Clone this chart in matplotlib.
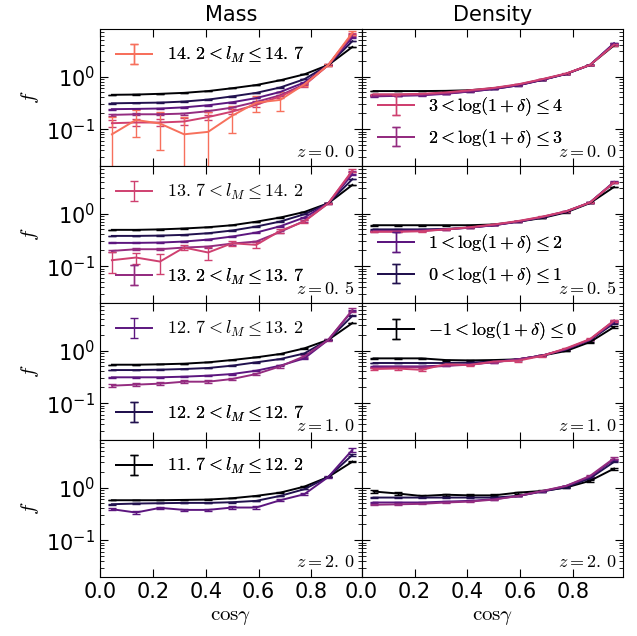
import matplotlib
matplotlib.use('Agg')
import matplotlib.pyplot as plt
from matplotlib.legend_handler import HandlerErrorbar
import numpy as np

plt.rcParams['mathtext.fontset'] = 'cm'

# bin centres in cos(gamma)
cos_gamma = [0.045, 0.136, 0.227, 0.318, 0.409, 0.5, 0.591, 0.682, 0.773, 0.864, 0.955]
redshifts = [r'0.\,0', r'0.\,5', r'1.\,0', r'2.\,0']

mass_labels = [r'$11.\,7<l_M\leq12.\,2$', r'$12.\,2<l_M\leq12.\,7$', r'$12.\,7<l_M\leq13.\,2$',
               r'$13.\,2<l_M\leq13.\,7$', r'$13.\,7<l_M\leq14.\,2$', r'$14.\,2<l_M\leq14.\,7$']
dens_labels = [r'$-1<\log(1+\delta)\leq0$', r'$0<\log(1+\delta)\leq1$',
               r'$1<\log(1+\delta)\leq2$', r'$2<\log(1+\delta)\leq3$',
               r'$3<\log(1+\delta)\leq4$']

# mass bins, one row per l_M bin
mass_z00 = [[0.45, 0.455, 0.47, 0.49, 0.53, 0.60, 0.69, 0.85, 1.10, 1.66, 3.65],
            [0.31, 0.315, 0.32, 0.335, 0.365, 0.42, 0.49, 0.62, 0.89, 1.66, 4.7],
            [0.24, 0.243, 0.247, 0.26, 0.285, 0.325, 0.39, 0.51, 0.77, 1.66, 5.5],
            [0.187, 0.192, 0.192, 0.198, 0.22, 0.257, 0.33, 0.44, 0.71, 1.66, 6.2],
            [0.13, 0.134, 0.134, 0.14, 0.17, 0.216, 0.29, 0.42, 0.68, 1.66, 6.5],
            [0.080, 0.150, 0.128, 0.080, 0.089, 0.18, 0.32, 0.36, 0.71, 1.66, 6.8]]
mass_z00_err = [[0.003, 0.003, 0.003, 0.003, 0.003, 0.004, 0.004, 0.005, 0.006, 0.01, 0.03],
                [0.003, 0.003, 0.003, 0.003, 0.004, 0.004, 0.005, 0.006, 0.008, 0.015, 0.05],
                [0.004, 0.004, 0.004, 0.004, 0.005, 0.006, 0.007, 0.009, 0.012, 0.02, 0.1],
                [0.008, 0.008, 0.008, 0.008, 0.009, 0.01, 0.012, 0.015, 0.02, 0.04, 0.2],
                [0.02, 0.02, 0.02, 0.02, 0.02, 0.025, 0.03, 0.03, 0.04, 0.06, 0.35],
                [0.09, 0.08, 0.088, 0.087, 0.125, 0.097, 0.105, 0.14, 0.06, 0.1, 0.6]]

mass_z05 = [[0.49, 0.49, 0.50, 0.52, 0.55, 0.60, 0.70, 0.84, 1.07, 1.57, 3.5],
            [0.376, 0.376, 0.381, 0.394, 0.423, 0.476, 0.566, 0.705, 0.97, 1.57, 4.5],
            [0.277, 0.277, 0.281, 0.294, 0.32, 0.366, 0.435, 0.574, 0.84, 1.57, 5.6],
            [0.195, 0.21, 0.21, 0.226, 0.236, 0.269, 0.294, 0.449, 0.725, 1.57, 6.3],
            [0.13, 0.146, 0.1225, 0.226, 0.182, 0.273, 0.254, 0.47, 0.705, 1.57, 6.6]]
mass_z05_err = [[0.003, 0.003, 0.003, 0.003, 0.003, 0.004, 0.004, 0.005, 0.006, 0.01, 0.03],
                [0.003, 0.003, 0.003, 0.004, 0.004, 0.005, 0.005, 0.006, 0.008, 0.015, 0.06],
                [0.005, 0.005, 0.005, 0.005, 0.006, 0.007, 0.008, 0.01, 0.012, 0.02, 0.12],
                [0.008, 0.008, 0.008, 0.009, 0.01, 0.011, 0.012, 0.015, 0.02, 0.04, 0.25],
                [0.055, 0.035, 0.05, 0.025, 0.05, 0.028, 0.035, 0.04, 0.04, 0.05, 0.5]]

mass_z10 = [[0.538, 0.538, 0.547, 0.563, 0.597, 0.661, 0.743, 0.86, 1.10, 1.60, 3.33],
            [0.426, 0.426, 0.433, 0.446, 0.466, 0.516, 0.597, 0.69, 0.88, 1.60, 4.57],
            [0.31, 0.31, 0.31, 0.319, 0.333, 0.358, 0.414, 0.516, 0.71, 1.60, 5.7],
            [0.215, 0.225, 0.235, 0.256, 0.256, 0.288, 0.358, 0.50, 0.777, 1.60, 5.9]]
mass_z10_err = [[0.003, 0.003, 0.003, 0.003, 0.004, 0.004, 0.005, 0.005, 0.007, 0.01, 0.04],
                [0.004, 0.004, 0.004, 0.004, 0.005, 0.005, 0.006, 0.007, 0.009, 0.015, 0.08],
                [0.006, 0.006, 0.006, 0.006, 0.007, 0.008, 0.009, 0.011, 0.014, 0.025, 0.15],
                [0.015, 0.015, 0.015, 0.016, 0.016, 0.017, 0.02, 0.025, 0.03, 0.05, 0.4]]

mass_z20 = [[0.574, 0.574, 0.574, 0.582, 0.59, 0.626, 0.694, 0.80, 1.04, 1.59, 3.1],
            [0.482, 0.496, 0.504, 0.511, 0.511, 0.526, 0.558, 0.694, 0.93, 1.59, 4.16],
            [0.388, 0.335, 0.411, 0.376, 0.376, 0.417, 0.417, 0.574, 0.746, 1.59, 5.2]]
mass_z20_err = [[0.004, 0.004, 0.004, 0.004, 0.005, 0.005, 0.006, 0.007, 0.009, 0.015, 0.05],
                [0.006, 0.006, 0.006, 0.006, 0.007, 0.007, 0.008, 0.01, 0.012, 0.02, 0.12],
                [0.02, 0.02, 0.02, 0.02, 0.02, 0.02, 0.02, 0.025, 0.03, 0.05, 0.45]]

# overdensity bins, one row per log(1+delta) bin
dens_z00 = [[0.53, 0.53, 0.53, 0.535, 0.55, 0.60, 0.69, 0.87, 1.12, 1.66, 3.9],
            [0.45, 0.45, 0.46, 0.48, 0.52, 0.58, 0.68, 0.86, 1.12, 1.66, 4.2],
            [0.42, 0.43, 0.44, 0.47, 0.52, 0.58, 0.68, 0.86, 1.12, 1.66, 4.3],
            [0.43, 0.44, 0.45, 0.48, 0.53, 0.60, 0.70, 0.88, 1.13, 1.66, 4.1],
            [0.46, 0.46, 0.47, 0.50, 0.55, 0.61, 0.71, 0.89, 1.14, 1.66, 4.0]]
dens_z05 = [[0.60, 0.60, 0.60, 0.60, 0.60, 0.62, 0.70, 0.82, 1.05, 1.58, 3.2],
            [0.50, 0.50, 0.50, 0.51, 0.54, 0.60, 0.70, 0.84, 1.08, 1.62, 3.9],
            [0.47, 0.47, 0.48, 0.50, 0.54, 0.60, 0.70, 0.85, 1.09, 1.62, 4.0],
            [0.46, 0.46, 0.47, 0.50, 0.54, 0.61, 0.71, 0.86, 1.10, 1.62, 3.9],
            [0.45, 0.45, 0.46, 0.50, 0.55, 0.62, 0.72, 0.87, 1.10, 1.62, 3.9]]
dens_z10 = [[0.71, 0.71, 0.71, 0.66, 0.65, 0.66, 0.68, 0.80, 0.98, 1.45, 2.8],
            [0.58, 0.58, 0.58, 0.58, 0.59, 0.62, 0.68, 0.80, 1.04, 1.58, 3.3],
            [0.50, 0.50, 0.50, 0.52, 0.55, 0.60, 0.68, 0.80, 1.06, 1.60, 3.5],
            [0.47, 0.48, 0.48, 0.51, 0.54, 0.60, 0.68, 0.80, 1.07, 1.62, 3.7],
            [0.445, 0.455, 0.43, 0.55, 0.53, 0.62, 0.64, 0.79, 1.10, 1.65, 3.7]]
dens_z20 = [[0.84, 0.77, 0.69, 0.73, 0.71, 0.71, 0.80, 0.86, 1.00, 1.34, 2.29],
            [0.645, 0.645, 0.645, 0.645, 0.645, 0.645, 0.69, 0.84, 1.01, 1.50, 3.07],
            [0.52, 0.52, 0.52, 0.54, 0.558, 0.60, 0.69, 0.84, 1.07, 1.59, 3.44],
            [0.47, 0.48, 0.49, 0.52, 0.54, 0.59, 0.69, 0.86, 1.07, 1.66, 3.6]]

dens_z00_err = [[0.005, 0.005, 0.005, 0.005, 0.005, 0.006, 0.007, 0.008, 0.01, 0.015, 0.05],
                [0.004, 0.004, 0.004, 0.004, 0.005, 0.005, 0.006, 0.008, 0.01, 0.015, 0.06],
                [0.004, 0.004, 0.004, 0.004, 0.005, 0.005, 0.006, 0.008, 0.01, 0.015, 0.08],
                [0.005, 0.005, 0.005, 0.005, 0.006, 0.006, 0.007, 0.009, 0.012, 0.02, 0.1],
                [0.006, 0.006, 0.006, 0.006, 0.007, 0.007, 0.008, 0.01, 0.014, 0.025, 0.12]]
dens_z05_err = [[0.008, 0.008, 0.008, 0.008, 0.008, 0.008, 0.009, 0.01, 0.012, 0.02, 0.06],
                [0.005, 0.005, 0.005, 0.005, 0.006, 0.006, 0.007, 0.008, 0.01, 0.015, 0.06],
                [0.005, 0.005, 0.005, 0.005, 0.006, 0.006, 0.007, 0.008, 0.01, 0.015, 0.07],
                [0.006, 0.006, 0.006, 0.006, 0.007, 0.007, 0.008, 0.01, 0.012, 0.02, 0.09],
                [0.008, 0.008, 0.008, 0.008, 0.009, 0.009, 0.01, 0.012, 0.015, 0.025, 0.1]]
dens_z10_err = [[0.015, 0.015, 0.015, 0.015, 0.015, 0.015, 0.015, 0.02, 0.02, 0.03, 0.08],
                [0.007, 0.007, 0.007, 0.007, 0.008, 0.008, 0.009, 0.01, 0.012, 0.02, 0.07],
                [0.007, 0.007, 0.007, 0.007, 0.008, 0.008, 0.009, 0.01, 0.012, 0.02, 0.08],
                [0.01, 0.01, 0.01, 0.01, 0.01, 0.011, 0.012, 0.014, 0.016, 0.03, 0.1],
                [0.025, 0.025, 0.025, 0.025, 0.025, 0.025, 0.025, 0.03, 0.035, 0.05, 0.15]]
dens_z20_err = [[0.04, 0.035, 0.03, 0.03, 0.03, 0.03, 0.03, 0.03, 0.035, 0.05, 0.1],
                [0.01, 0.01, 0.01, 0.01, 0.01, 0.01, 0.011, 0.013, 0.015, 0.025, 0.08],
                [0.01, 0.01, 0.01, 0.01, 0.01, 0.011, 0.012, 0.014, 0.016, 0.03, 0.1],
                [0.012, 0.012, 0.012, 0.012, 0.012, 0.013, 0.014, 0.016, 0.02, 0.035, 0.15]]

mass_panels = [(mass_z00, mass_z00_err), (mass_z05, mass_z05_err),
               (mass_z10, mass_z10_err), (mass_z20, mass_z20_err)]
dens_panels = [(dens_z00, dens_z00_err), (dens_z05, dens_z05_err),
               (dens_z10, dens_z10_err), (dens_z20, dens_z20_err)]

# which bins go in which legend: (indices, loc)
mass_legends = [[([5], 'upper left')],
                [([4], 'upper left'), ([3], 'lower left')],
                [([2], 'upper left'), ([1], 'lower left')],
                [([0], 'upper left')]]
dens_legends = [[([4, 3], 'lower left')],
                [([2, 1], 'lower left')],
                [([0], 'upper left')],
                []]

colors = plt.cm.magma(np.linspace(0, 0.7, 6))

fig, axes = plt.subplots(4, 2, figsize=(6.37, 6.36), dpi=100, sharex=True, sharey=True)
fig.subplots_adjust(left=0.157, right=0.9785, top=0.9544, bottom=0.0928,
                    hspace=0, wspace=0)


def draw_panel(ax, curves, errs, labels, legends, z):
    handles = []
    for i, (f, e) in enumerate(zip(curves, errs)):
        h = ax.errorbar(cos_gamma, f, yerr=e, color=colors[i], lw=1.4,
                        elinewidth=1.0, capsize=3, capthick=1.0, label=labels[i])
        handles.append(h)
    for idx, loc in legends:
        leg = ax.legend([handles[k] for k in idx], [labels[k] for k in idx],
                        loc=loc, frameon=False, fontsize=13, handlelength=2.0,
                        handler_map={type(handles[0]): HandlerErrorbar(yerr_size=0.55)})
        ax.add_artist(leg)
    ax.text(0.975, 0.04, r'$z=%s$' % z, transform=ax.transAxes,
            ha='right', va='bottom', fontsize=13)


for row in range(4):
    draw_panel(axes[row, 0], *mass_panels[row], mass_labels, mass_legends[row], redshifts[row])
    draw_panel(axes[row, 1], *dens_panels[row], dens_labels, dens_legends[row], redshifts[row])
    axes[row, 0].set_ylabel(r'$f$', fontsize=15)

for ax in axes.flat:
    ax.set_yscale('log')
    ax.set_ylim(0.02, 8)
    ax.set_xlim(0, 0.99)
    ax.set_xticks([0.0, 0.2, 0.4, 0.6, 0.8])
    ax.tick_params(which='both', direction='in', top=True, right=True, labelsize=15)
    ax.tick_params(which='major', length=6)
    ax.tick_params(which='minor', length=3)

axes[0, 0].set_title('Mass', fontsize=15)
axes[0, 1].set_title('Density', fontsize=15)
axes[3, 0].set_xlabel(r'$\mathrm{cos}\gamma$', fontsize=15)
axes[3, 1].set_xlabel(r'$\mathrm{cos}\gamma$', fontsize=15)

fig.savefig('out.png', dpi=100)
